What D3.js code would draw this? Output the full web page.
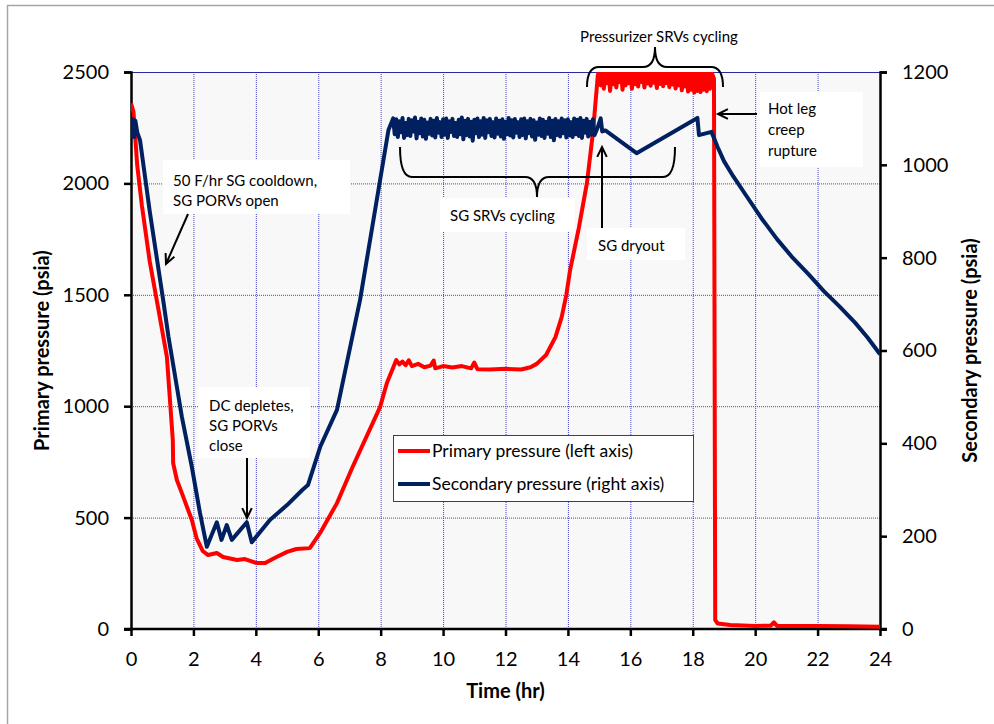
<!DOCTYPE html>
<html>
<head>
<meta charset="utf-8">
<script src="https://cdn.jsdelivr.net/npm/d3@7"></script>
<style>
  body { margin: 0; background: #fff; }
  text { font-family: Lato, "Open Sans", sans-serif; fill: #000; }
</style>
</head>
<body>
<div class="chart"></div>
<script>
// time (hr) vs primary pressure (psia, left axis)
const primaryRamp = [
  [0, 2360], [0.08, 2320], [0.2, 2080], [0.35, 1900], [0.6, 1650], [0.87, 1441],
  [1.15, 1221], [1.34, 848], [1.35, 745], [1.47, 669], [1.63, 610], [1.95, 489],
  [2.1, 408], [2.3, 350], [2.47, 332], [2.75, 341], [2.95, 323], [3.4, 310],
  [3.65, 314], [4.03, 296], [4.3, 296], [4.6, 319], [5.0, 346], [5.3, 359],
  [5.73, 363], [6.06, 431], [6.6, 565], [7.1, 727], [7.98, 996], [8.2, 1104],
  [8.5, 1207], [8.6, 1188], [8.7, 1200], [8.8, 1184], [8.9, 1206], [9.0, 1180],
  [9.2, 1190], [9.4, 1175], [9.6, 1182], [9.7, 1205], [9.75, 1170], [10.0, 1180],
  [10.3, 1174], [10.6, 1180], [10.9, 1170], [11.0, 1196], [11.1, 1166], [11.5, 1165],
  [12.0, 1168], [12.5, 1165], [12.8, 1175], [13.0, 1190], [13.3, 1230], [13.6, 1310],
  [13.8, 1400], [13.95, 1500], [14.07, 1611], [14.35, 1800], [14.61, 2002], [14.8, 2226],
  [14.96, 2487]
]
// pressurizer SRVs cycling
const primarySrv = [
  [15.00, 2500], [15.05, 2440], [15.10, 2500], [15.15, 2425], [15.20, 2500], [15.25, 2450],
  [15.30, 2498], [15.35, 2415], [15.40, 2500], [15.45, 2445], [15.50, 2500], [15.55, 2430],
  [15.60, 2496], [15.65, 2455], [15.70, 2500], [15.75, 2420], [15.80, 2500], [15.85, 2440],
  [15.90, 2499], [15.95, 2450], [16.00, 2500], [16.05, 2425], [16.10, 2500], [16.15, 2445],
  [16.20, 2497], [16.25, 2435], [16.30, 2500], [16.35, 2455], [16.40, 2500], [16.45, 2430],
  [16.50, 2498], [16.55, 2448], [16.60, 2500], [16.65, 2438], [16.70, 2500], [16.75, 2452],
  [16.80, 2496], [16.85, 2428], [16.90, 2500], [16.95, 2446], [17.00, 2500], [17.05, 2436],
  [17.10, 2499], [17.15, 2450], [17.20, 2500], [17.25, 2432], [17.30, 2500], [17.35, 2444],
  [17.40, 2497], [17.45, 2426], [17.50, 2500], [17.55, 2440], [17.60, 2500], [17.65, 2418],
  [17.70, 2498], [17.75, 2435], [17.80, 2500], [17.85, 2412], [17.90, 2500], [17.95, 2420],
  [18.00, 2499], [18.05, 2408], [18.10, 2500], [18.15, 2415], [18.20, 2500], [18.25, 2410],
  [18.30, 2497], [18.35, 2420], [18.40, 2500], [18.45, 2414], [18.50, 2500], [18.55, 2425],
  [18.60, 2500]
]
// after hot leg rupture
const primaryTail = [
  [18.68, 2470], [18.72, 40], [18.8, 25], [19.2, 18], [20.0, 14], [20.5, 15],
  [20.6, 30], [20.7, 14], [21.5, 13], [22.0, 14], [23.0, 12], [24.0, 10]
]

// time (hr) vs secondary pressure (psia, right axis)
const secondaryRamp = [
  [0, 1090], [0.03, 1062], [0.06, 1098], [0.1, 1060], [0.14, 1095], [0.2, 1070],
  [0.29, 1053], [0.6, 900], [1.03, 709], [1.2, 630], [1.31, 586], [1.63, 457],
  [1.95, 349], [2.21, 250], [2.43, 177], [2.75, 230], [2.9, 192], [3.07, 224],
  [3.23, 192], [3.71, 230], [3.87, 187], [4.45, 235], [5.0, 267], [5.48, 299],
  [5.67, 310], [6.06, 392], [6.6, 472], [7.34, 709], [8.25, 1075]
]
// SG SRVs cycling
const secondarySrv = [
  [8.40, 1100], [8.45, 1066], [8.50, 1098], [8.55, 1060], [8.60, 1094], [8.65, 1070],
  [8.70, 1101], [8.75, 1058], [8.80, 1090], [8.85, 1064], [8.90, 1099], [8.95, 1062],
  [9.00, 1096], [9.05, 1072], [9.10, 1102], [9.15, 1057], [9.20, 1093], [9.25, 1068],
  [9.30, 1100], [9.35, 1061], [9.40, 1097], [9.45, 1056], [9.50, 1091], [9.55, 1067],
  [9.60, 1099], [9.65, 1063], [9.70, 1095], [9.75, 1059], [9.80, 1101], [9.85, 1069],
  [9.90, 1092], [9.95, 1060], [10.00, 1098], [10.05, 1065], [10.10, 1100], [10.15, 1058],
  [10.20, 1094], [10.25, 1071], [10.30, 1099], [10.35, 1062], [10.40, 1090], [10.45, 1060],
  [10.50, 1097], [10.55, 1066], [10.60, 1102], [10.65, 1055], [10.70, 1095], [10.75, 1064],
  [10.80, 1099], [10.85, 1061], [10.90, 1093], [10.95, 1052], [11.00, 1097], [11.05, 1068],
  [11.10, 1100], [11.15, 1060], [11.20, 1094], [11.25, 1065], [11.30, 1101], [11.35, 1058],
  [11.40, 1096], [11.45, 1070], [11.50, 1099], [11.55, 1062], [11.60, 1092], [11.65, 1059],
  [11.70, 1100], [11.75, 1067], [11.80, 1095], [11.85, 1061], [11.90, 1098], [11.95, 1056],
  [12.00, 1093], [12.05, 1066], [12.10, 1101], [12.15, 1063], [12.20, 1096], [12.25, 1059],
  [12.30, 1099], [12.35, 1069], [12.40, 1092], [12.45, 1060], [12.50, 1098], [12.55, 1064],
  [12.60, 1100], [12.65, 1057], [12.70, 1094], [12.75, 1068], [12.80, 1099], [12.85, 1061],
  [12.90, 1096], [12.95, 1054], [13.00, 1091], [13.05, 1065], [13.10, 1100], [13.15, 1062],
  [13.20, 1097], [13.25, 1058], [13.30, 1093], [13.35, 1067], [13.40, 1101], [13.45, 1060],
  [13.50, 1095], [13.55, 1053], [13.60, 1099], [13.65, 1064], [13.70, 1094], [13.75, 1061],
  [13.80, 1100], [13.85, 1068], [13.90, 1096], [13.95, 1059], [14.00, 1098], [14.05, 1063],
  [14.10, 1092], [14.15, 1060], [14.20, 1100], [14.25, 1066], [14.30, 1097], [14.35, 1062],
  [14.40, 1101], [14.45, 1058], [14.50, 1095], [14.55, 1069], [14.60, 1099], [14.65, 1061],
  [14.70, 1093], [14.75, 1065], [14.80, 1098], [14.85, 1064]
]
// dryout, rupture and depressurisation
const secondaryTail = [
  [14.95, 1080], [15.05, 1100], [15.1, 1072], [15.2, 1074], [16.2, 1025], [18.15, 1101],
  [18.2, 1064], [18.6, 1071], [18.8, 1038], [19.0, 1008], [19.3, 975], [19.7, 935],
  [20.2, 885], [20.7, 840], [21.2, 800], [21.7, 765], [22.2, 728], [22.7, 695],
  [23.2, 660], [23.6, 628], [24, 592]
]

const xTicks = [0, 2, 4, 6, 8, 10, 12, 14, 16, 18, 20, 22, 24]
const leftTicks = [0, 500, 1000, 1500, 2000, 2500]
const rightTicks = [0, 200, 400, 600, 800, 1000, 1200]
const legendLabels = ['Primary pressure (left axis)', 'Secondary pressure (right axis)']

const primary = primaryRamp.concat(primarySrv, primaryTail)
const secondary = secondaryRamp.concat(secondarySrv, secondaryTail)

const W = 994, H = 724
const plot = {left: 131, right: 880, top: 72, bottom: 629}

const svg = d3.select('.chart')
  .append('svg')
  .attr('width', W)
  .attr('height', H)

// outer chart border
svg.append('rect')
  .attr('x', 7.5).attr('y', 5.5)
  .attr('width', 1000).attr('height', 730)
  .attr('fill', '#fff')
  .attr('stroke', '#a6a6a6')
  .attr('stroke-width', 1.5)

const x = d3.scaleLinear().domain([0, 24]).range([plot.left, plot.right])
const yL = d3.scaleLinear().domain([0, 2500]).range([plot.bottom, plot.top])
const yR = d3.scaleLinear().domain([0, 1200]).range([plot.bottom, plot.top])

svg.append('rect')
  .attr('x', plot.left).attr('y', plot.top)
  .attr('width', plot.right - plot.left).attr('height', plot.bottom - plot.top)
  .attr('fill', '#f8f8f8')

svg.append('clipPath').attr('id', 'clip')
  .append('rect')
  .attr('x', plot.left).attr('y', plot.top)
  .attr('width', plot.right - plot.left).attr('height', plot.bottom - plot.top)

// grid
const grid = svg.append('g').attr('class', 'grid')
grid.selectAll('line.v')
  .data(xTicks.filter(d => d > 0 && d < 24))
  .enter().append('line')
    .attr('x1', d => x(d) + 0.5).attr('x2', d => x(d) + 0.5)
    .attr('y1', plot.top).attr('y2', plot.bottom)
    .attr('stroke', '#4545c0')
    .attr('stroke-width', 1)
    .attr('stroke-dasharray', '1,1')
grid.selectAll('line.h')
  .data(leftTicks.filter(d => d > 0))
  .enter().append('line')
    .attr('x1', plot.left).attr('x2', plot.right)
    .attr('y1', d => yL(d) + 0.5).attr('y2', d => yL(d) + 0.5)
    .attr('stroke', d => d === 2500 ? '#2a2aa0' : '#4545c0')
    .attr('stroke-width', 1)
    .attr('stroke-dasharray', d => d === 2500 ? null : '1,1')

// axes
const fmt = d3.format('d')
const xAxis = svg.append('g')
  .attr('transform', `translate(0,${plot.bottom})`)
  .call(d3.axisBottom(x).tickValues(xTicks).tickFormat(fmt).tickSize(7).tickPadding(16))
const leftAxis = svg.append('g')
  .attr('transform', `translate(${plot.left},0)`)
  .call(d3.axisLeft(yL).tickValues(leftTicks).tickFormat(fmt).tickSize(7).tickPadding(15))
const rightAxis = svg.append('g')
  .attr('transform', `translate(${plot.right},0)`)
  .call(d3.axisRight(yR).tickValues(rightTicks).tickFormat(fmt).tickSize(7).tickPadding(15))

;[xAxis, leftAxis, rightAxis].forEach(a => {
  a.select('.domain').attr('stroke', '#000').attr('stroke-width', 2.5)
  a.selectAll('.tick line').attr('stroke', '#000').attr('stroke-width', 2.5)
  a.selectAll('.tick text')
    .style('font-family', 'Lato, sans-serif')
    .style('font-size', '20px')
    .attr('fill', '#000')
})
xAxis.select('.domain').attr('d', `M${plot.left - 7},0H${plot.right + 7}`)

// series
const line = yScale => d3.line().x(d => x(d[0])).y(d => yScale(d[1]))

const lines = svg.append('g').attr('clip-path', 'url(#clip)')
lines.append('path')
  .datum(primary)
  .attr('d', line(yL))
  .attr('fill', 'none')
  .attr('stroke', '#ff0000')
  .attr('stroke-width', 4)
  .attr('stroke-linejoin', 'round')
lines.append('path')
  .datum(secondary)
  .attr('d', line(yR))
  .attr('fill', 'none')
  .attr('stroke', '#002060')
  .attr('stroke-width', 4)
  .attr('stroke-linejoin', 'round')

// axis titles
svg.append('text')
  .attr('transform', `translate(49,${(plot.top + plot.bottom) / 2}) rotate(-90)`)
  .attr('text-anchor', 'middle')
  .style('font-size', '20px').style('font-weight', 'bold')
  .text('Primary pressure (psia)')
svg.append('text')
  .attr('transform', `translate(977,${(plot.top + plot.bottom) / 2}) rotate(-90)`)
  .attr('text-anchor', 'middle')
  .style('font-size', '20px').style('font-weight', 'bold')
  .text('Secondary pressure (psia)')
svg.append('text')
  .attr('x', (plot.left + plot.right) / 2).attr('y', 698)
  .attr('text-anchor', 'middle')
  .style('font-size', '20px').style('font-weight', 'bold')
  .text('Time (hr)')

// annotations
const ann = svg.append('g').attr('class', 'annotations')

function noteBox(x0, y0, w, h, lines, tx, ty, dy) {
  ann.append('rect')
    .attr('x', x0).attr('y', y0).attr('width', w).attr('height', h)
    .attr('fill', '#fff')
  lines.forEach((t, i) => {
    ann.append('text')
      .attr('x', tx).attr('y', ty + i * dy)
      .style('font-size', '15px')
      .text(t)
  })
}

function arrow(x1, y1, x2, y2) {
  ann.append('line')
    .attr('x1', x1).attr('y1', y1).attr('x2', x2).attr('y2', y2)
    .attr('stroke', '#000').attr('stroke-width', 2)
  const a = Math.atan2(y2 - y1, x2 - x1), L = 11, s = 0.45
  ann.append('path')
    .attr('d', `M${x2 - L * Math.cos(a - s)},${y2 - L * Math.sin(a - s)}L${x2},${y2}L${x2 - L * Math.cos(a + s)},${y2 - L * Math.sin(a + s)}`)
    .attr('fill', 'none').attr('stroke', '#000').attr('stroke-width', 2)
}

function brace(xa, xb, xm, yEnd, yBar, yTip) {
  const c = 12
  ann.append('path')
    .attr('d', `M${xa},${yEnd}Q${xa},${yBar} ${xa + c},${yBar}L${xm - c},${yBar}Q${xm},${yBar} ${xm},${yTip}` +
      `Q${xm},${yBar} ${xm + c},${yBar}L${xb - c},${yBar}Q${xb},${yBar} ${xb},${yEnd}`)
    .attr('fill', 'none').attr('stroke', '#000').attr('stroke-width', 2)
}

noteBox(163, 160, 187, 54, ['50 F/hr SG cooldown,', 'SG PORVs open'], 173, 186, 20)
arrow(188, 214, 166, 264)

noteBox(198, 387, 112, 71, ['DC depletes,', 'SG PORVs', 'close'], 209, 411, 20)
arrow(247, 458, 247, 518)

brace(400, 675, 537, 147, 177, 197)
noteBox(440, 198, 135, 34, ['SG SRVs cycling'], 450, 221, 0)

noteBox(587, 228, 98, 32, ['SG dryout'], 598, 251, 0)
arrow(602, 228, 602, 147)

brace(587, 723, 655, 87, 67, 47)
ann.append('text')
  .attr('x', 659).attr('y', 42)
  .attr('text-anchor', 'middle')
  .style('font-size', '15px')
  .text('Pressurizer SRVs cycling')

noteBox(760, 92, 103, 75, ['Hot leg', 'creep', 'rupture'], 768, 114, 21)
arrow(757, 114, 718, 114)

// legend
const legend = svg.append('g').attr('class', 'legend')
legend.append('rect')
  .attr('x', 393.5).attr('y', 435.5).attr('width', 300).attr('height', 66)
  .attr('fill', '#fff').attr('stroke', '#404040').attr('stroke-width', 1)
const item = legend.selectAll('g.item')
  .data(legendLabels)
  .enter().append('g')
    .attr('class', 'item')
    .attr('transform', (d, i) => `translate(0,${451 + i * 33})`)
item.append('line')
  .attr('x1', 398).attr('x2', 430)
  .attr('stroke', (d, i) => i === 0 ? '#ff0000' : '#002060')
  .attr('stroke-width', 4)
item.append('text')
  .attr('x', 432).attr('y', 6)
  .style('font-size', '17.5px')
  .text(d => d)
</script>
</body>
</html>
